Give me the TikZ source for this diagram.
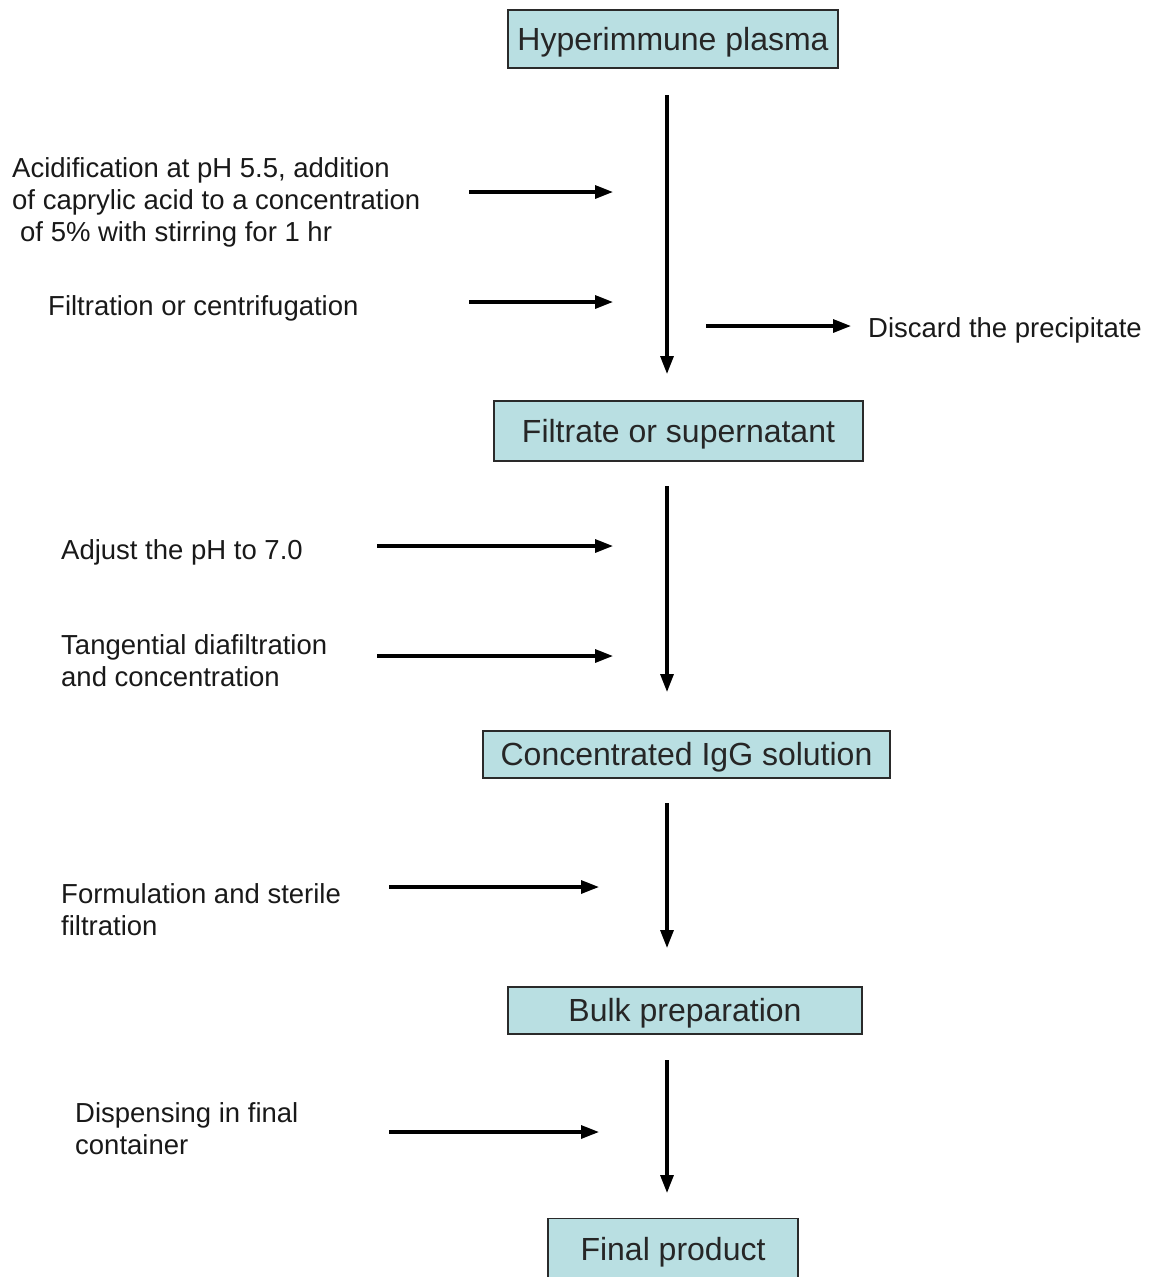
\documentclass[tikz,border=0pt]{standalone}
\usepackage{fontspec}
\setmainfont{Liberation Sans}
\usetikzlibrary{arrows.meta}
\definecolor{boxfill}{HTML}{B9DFE2}
\definecolor{boxline}{HTML}{2A2A2A}
\tikzset{
  stepbox/.style={draw=boxline, line width=1.4pt, fill=boxfill, inner sep=0pt,
    font=\fontsize{32}{38}\selectfont, text=black!85},
  boxlabel/.style={font=\fontsize{32}{38}\selectfont, text=black!85, inner sep=0pt},
  sidetext/.style={anchor=west, align=left, inner sep=0pt,
    font=\fontsize{27.5}{31.7}\selectfont, text=black!90},
  flow/.style={line width=3.2pt, -{Triangle[length=18pt,width=13pt]}},
}
\begin{document}
\begin{tikzpicture}[x=1pt,y=-1pt]
\useasboundingbox (0,0) rectangle (1151,1277);
% boxes
\node[stepbox, minimum width=330pt, minimum height=58pt] (b1) at (673,39) {};
\node[boxlabel] (b1t) at (673,42) {Hyperimmune plasma};
\node[stepbox, minimum width=369pt, minimum height=60pt] (b2) at (678.5,431) {};
\node[boxlabel] (b2t) at (678.5,434) {Filtrate or supernatant};
\node[stepbox, minimum width=407pt, minimum height=47pt] (b3) at (686.5,754.5) {};
\node[boxlabel] (b3t) at (686.5,757.5) {Concentrated IgG solution};
\node[stepbox, minimum width=354pt, minimum height=47pt] (b4) at (685,1010.5) {};
\node[boxlabel] (b4t) at (685,1013.5) {Bulk preparation};
\node[stepbox, minimum width=250pt, minimum height=66pt, anchor=north] (b5) at (673,1218) {};
\node[boxlabel] (b5t) at (673,1252) {Final product};
% side texts
\node[sidetext] (t1) at (12,202.5) {Acidification at pH 5.5, addition\\of caprylic acid to a concentration\\\hspace{8pt}of 5\% with stirring for 1 hr};
\node[sidetext] (t2) at (48,308) {Filtration or centrifugation};
\node[sidetext] (t3) at (868,330) {Discard the precipitate};
\node[sidetext] (t4) at (61,552) {Adjust the pH to 7.0};
\node[sidetext] (t5) at (61,661) {Tangential diafiltration\\and concentration};
\node[sidetext] (t6) at (61,909.5) {Formulation and sterile\\filtration};
\node[sidetext] (t7) at (75,1129) {Dispensing in final\\container};
% coordinates for main flow
\coordinate (v1s) at (667,95);  \coordinate (v1e) at (667,374);
\coordinate (v2s) at (667,486); \coordinate (v2e) at (667,692);
\coordinate (v3s) at (667,803); \coordinate (v3e) at (667,948);
\coordinate (v4s) at (667,1060);\coordinate (v4e) at (667,1193);
\draw[flow] (v1s) -- (v1e);
\draw[flow] (v2s) -- (v2e);
\draw[flow] (v3s) -- (v3e);
\draw[flow] (v4s) -- (v4e);
% horizontal arrows
\coordinate (h1s) at (469,192);  \coordinate (h1e) at (613,192);
\coordinate (h2s) at (469,302);  \coordinate (h2e) at (613,302);
\coordinate (h3s) at (706,326);  \coordinate (h3e) at (851,326);
\coordinate (h4s) at (377,546);  \coordinate (h4e) at (613,546);
\coordinate (h5s) at (377,656);  \coordinate (h5e) at (613,656);
\coordinate (h6s) at (389,887);  \coordinate (h6e) at (599,887);
\coordinate (h7s) at (389,1132); \coordinate (h7e) at (599,1132);
\foreach \i in {1,...,7} {\draw[flow] (h\i s) -- (h\i e);}
\end{tikzpicture}
\end{document}
